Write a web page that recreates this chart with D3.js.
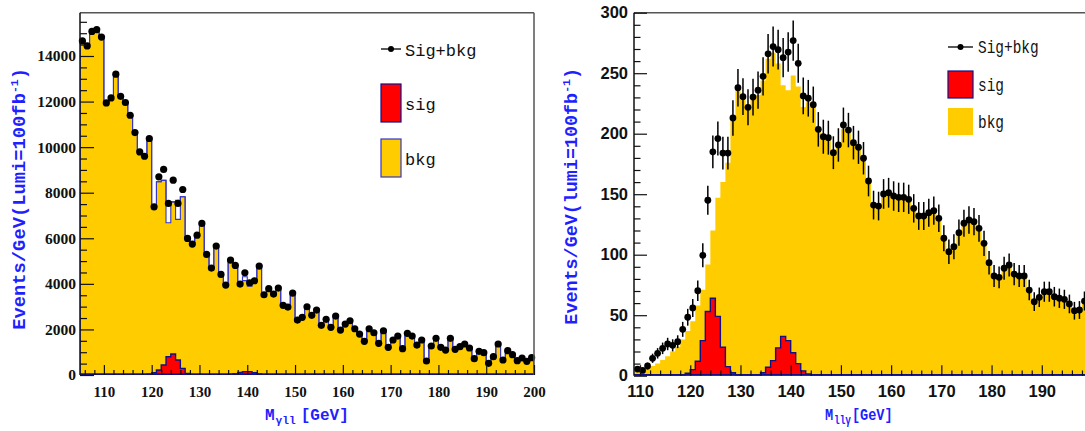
<!DOCTYPE html>
<html>
<head>
<meta charset="utf-8">
<script src="https://cdn.jsdelivr.net/npm/d3@7"></script>
<style>
body { margin: 0; background: #fff; }
svg { display: block; }
</style>
</head>
<body>
<div id="chart"></div>
<script>
// Left panel: M(gamma l l), 1 GeV bins from 105 to 200
var leftBins = d3.range(105, 200);
var leftData = [
    14660, 14440, 15080, 15160, 14830, 11940, 12160, 13200, 12230, 11960,
    11400, 10640, 9790, 9600, 10380, 7380, 8695, 9020, 7528, 8550,
    7528, 8142, 5994, 5744, 6138, 6651, 5291, 4691, 5656, 4414,
    3946, 5042, 4808, 3990, 4487, 4048, 4136, 4779, 3522, 3790,
    3551, 3815, 3056, 2982, 3595, 2412, 2530, 2995, 2617, 2850,
    2179, 2442, 2091, 2587, 1973, 2236, 2381, 2030, 1798, 1478,
    2030, 1855, 1390, 1942, 1215, 1535, 1710, 1155, 1827, 1710,
    1315, 1535, 614, 1272, 1608, 1213, 1096, 1608, 1126, 1242,
    1360, 1184, 716, 1038, 979, 512, 804, 1360, 658, 1067,
    892, 628, 746, 599, 760];
var leftBkg = [
    14660, 14440, 15080, 15160, 14830, 11940, 12160, 13200, 12230, 11960,
    11400, 10640, 9790, 9600, 10380, 7300, 8480, 8540, 7600, 7600,
    7670, 7820, 6050, 5744, 6138, 6651, 5291, 4691, 5656, 4414,
    3946, 5042, 4808, 3990, 4310, 4090, 4136, 4779, 3522, 3790,
    3551, 3815, 3056, 2982, 3595, 2412, 2530, 2995, 2617, 2850,
    2179, 2442, 2091, 2587, 1973, 2236, 2381, 2030, 1798, 1478,
    2030, 1855, 1390, 1942, 1215, 1535, 1710, 1155, 1827, 1710,
    1315, 1535, 614, 1272, 1608, 1213, 1096, 1608, 1126, 1242,
    1360, 1184, 716, 1038, 979, 512, 804, 1360, 658, 1067,
    892, 628, 746, 599, 760];
var leftSig = [
    0, 0, 0, 0, 0, 0, 0, 0, 0, 0,
    0, 0, 0, 10, 40, 100, 220, 440, 800, 920,
    660, 290, 70, 15, 0, 0, 0, 0, 0, 0,
    10, 25, 60, 110, 150, 150, 100, 45, 15, 0,
    0, 0, 0, 0, 0, 0, 0, 0, 0, 0,
    0, 0, 0, 0, 0, 0, 0, 0, 0, 0,
    0, 0, 0, 0, 0, 0, 0, 0, 0, 0,
    0, 0, 0, 0, 0, 0, 0, 0, 0, 0,
    0, 0, 0, 0, 0, 0, 0, 0, 0, 0,
    0, 0, 0, 0, 0];
// bins where the yellow fill stops below the blue outline
var leftHoleBins = [123, 125, 139, 140];
var leftHoleTop = [6680, 6830, 4140, 3900];
var leftYTicks = [0, 2000, 4000, 6000, 8000, 10000, 12000, 14000];
var leftXTicks = [110, 120, 130, 140, 150, 160, 170, 180, 190, 200];

// Right panel: M(l l gamma), 1 GeV bins from 109
var rightBins = d3.range(109, 200);
var rightData = [
    5.5, 4.4, 8, 14.4, 18.5, 22.6, 26.2, 25.1, 28.1, 38.3,
    48.3, 56, 70.2, 99.5, 145, 185, 196, 184, 184, 213,
    238, 230.6, 221.8, 230.3, 236, 247.4, 266, 272, 269.4, 262.8,
    267.5, 277, 258.2, 231.2, 229.3, 224, 203.6, 197.5, 196.7, 184.3,
    190.7, 207.2, 203, 192.6, 188.8, 179.7, 160.9, 141, 140.2, 150.2,
    151.2, 148.5, 147.4, 147.4, 145.8, 138.3, 132, 132, 134.7, 136.4,
    130.1, 113.6, 102.5, 106.6, 118.2, 126, 128.7, 127.3, 121.8, 109.4,
    93.4, 82.4, 81.3, 88.8, 91.5, 84, 82.4, 82.4, 70.8, 61.2,
    64.8, 69.4, 69.4, 65.3, 64, 63.1, 59.3, 53.7, 54.3, 61.7,
    58];
var rightBkg = [
    3, 4, 6, 8, 10, 13, 16, 20, 24, 30,
    37, 45, 58, 71, 92, 120, 147, 160, 176, 211,
    236, 228, 222, 228, 232, 244, 262, 267, 258, 240,
    236, 248, 239, 222, 226, 222, 202, 196, 195, 186,
    189, 204, 201, 193, 188, 180, 163, 143, 141, 149,
    150, 148, 147, 146, 145, 139, 133, 133, 134, 136,
    130, 115, 104, 107, 117, 125, 128, 127, 122, 110,
    95, 84, 82, 88, 90, 85, 83, 82, 72, 63,
    65, 69, 68, 65, 64, 63, 59, 55, 55, 60,
    58];
var rightSig = [
    0, 0, 0, 0, 0, 0, 0, 0, 0, 0.5,
    2, 5, 12, 29, 53, 64, 49, 23.5, 7.5, 2.5,
    0.5, 0, 0, 0, 0, 2.5, 7, 12.5, 23, 32.5,
    29, 19, 10, 4, 1.5, 0, 0, 0, 0, 0,
    0, 0, 0, 0, 0, 0, 0, 0, 0, 0,
    0, 0, 0, 0, 0, 0, 0, 0, 0, 0,
    0, 0, 0, 0, 0, 0, 0, 0, 0, 0,
    0, 0, 0, 0, 0, 0, 0, 0, 0, 0,
    0, 0, 0, 0, 0, 0, 0, 0, 0, 0,
    0];
var rightYTicks = [0, 50, 100, 150, 200, 250, 300];
var rightXTicks = [110, 120, 130, 140, 150, 160, 170, 180, 190];

var legendLabels = ["Sig+bkg", "sig", "bkg"];

var YELLOW = "#ffcc00", RED = "#ff0000", NAVY = "#10108a", BLUE = "#1f1fff";

var svg = d3.select("#chart").append("svg")
    .attr("width", 1085)
    .attr("height", 431);

function drawPanel(p) {
    var x = d3.scaleLinear().domain(p.xDomain).range(p.xRange);
    var y = d3.scaleLinear().domain(p.yDomain).range(p.yRange);
    var x0 = p.xRange[0], x1 = p.xRange[1], yb = p.yRange[0], yt = p.yRange[1];

    svg.append("clipPath").attr("id", "clip-" + p.id)
        .append("rect")
        .attr("x", x0).attr("y", yt)
        .attr("width", x1 - x0).attr("height", yb - yt);

    var g = svg.append("g");
    var plot = g.append("g").attr("clip-path", "url(#clip-" + p.id + ")");

    var lastEdge = p.bins[p.bins.length - 1] + 1;
    function stepPts(vals) {
        var pts = p.bins.map(function(b, i) { return [b, vals[i]]; });
        pts.push([lastEdge, vals[vals.length - 1]]);
        return pts;
    }
    function closedPts(vals) {
        return [[p.bins[0], 0]].concat(stepPts(vals), [[lastEdge, 0]]);
    }
    var area = d3.area().curve(d3.curveStepAfter)
        .x(function(d) { return x(d[0]); })
        .y0(y(0))
        .y1(function(d) { return y(d[1]); });
    var line = d3.line().curve(d3.curveStepAfter)
        .x(function(d) { return x(d[0]); })
        .y(function(d) { return y(d[1]); });

    // background histogram (yellow)
    var fillVals = p.bkg.map(function(v, i) {
        var k = p.holeBins.indexOf(p.bins[i]);
        return k >= 0 ? p.holeTop[k] : v;
    });
    plot.append("path")
        .attr("d", area(stepPts(fillVals)))
        .attr("fill", YELLOW)
        .attr("stroke", p.bkgStroke ? p.bkgStroke : "none")
        .attr("stroke-width", 1.1);
    if (p.bkgStroke) {
        plot.append("path")
            .attr("d", line(closedPts(p.bkg)))
            .attr("fill", "none")
            .attr("stroke", p.bkgStroke)
            .attr("stroke-width", 1.1);
    }

    // signal histogram (red)
    plot.append("path")
        .attr("d", area(stepPts(p.sig)))
        .attr("fill", RED);
    plot.append("line")
        .attr("x1", x0).attr("x2", x1)
        .attr("y1", yb - 0.5).attr("y2", yb - 0.5)
        .attr("stroke", NAVY).attr("stroke-width", 2.5);
    plot.append("path")
        .attr("d", line(closedPts(p.sig)))
        .attr("fill", "none")
        .attr("stroke", NAVY)
        .attr("stroke-width", 1.4);

    // pseudo data: dots with sqrt(N) error bars
    var pts = g.append("g").selectAll("g")
        .data(p.data.map(function(v, i) { return {b: p.bins[i] + 0.5, v: v}; }))
        .enter().append("g");
    pts.append("line")
        .attr("x1", function(d) { return x(d.b); })
        .attr("x2", function(d) { return x(d.b); })
        .attr("y1", function(d) { return y(d.v - Math.sqrt(d.v)); })
        .attr("y2", function(d) { return y(d.v + Math.sqrt(d.v)); })
        .attr("stroke", "#000")
        .attr("stroke-width", 1.5);
    pts.append("circle")
        .attr("cx", function(d) { return x(d.b); })
        .attr("cy", function(d) { return y(d.v); })
        .attr("r", p.dotR)
        .attr("fill", "#000");

    // frame
    g.append("line").attr("x1", x0).attr("x2", x1).attr("y1", yt).attr("y2", yt)
        .attr("stroke", "#555").attr("stroke-width", 1.5);
    g.append("line").attr("x1", x1).attr("x2", x1).attr("y1", yt).attr("y2", yb)
        .attr("stroke", "#555").attr("stroke-width", 1.5);
    g.append("line").attr("x1", x0).attr("x2", x0).attr("y1", yt).attr("y2", yb)
        .attr("stroke", "#111").attr("stroke-width", 1.5);

    // ticks drawn inside the frame, ROOT style
    var yMinor = d3.range(p.yDomain[0], p.yDomain[1] + 1e-6, p.yMinorStep)
        .filter(function(v) { return p.yTicks.indexOf(v) < 0; });
    var xMinor = d3.range(Math.ceil(p.xDomain[0] / 2) * 2, p.xDomain[1] + 1e-6, 2)
        .filter(function(v) { return p.xTicks.indexOf(v) < 0; });

    var yMaj = g.append("g").attr("transform", "translate(" + x0 + ",0)")
        .call(d3.axisLeft(y).tickValues(p.yTicks).tickSizeInner(-p.yMajLen)
            .tickSizeOuter(0).tickPadding(p.yPad).tickFormat(d3.format("d")));
    var yMin = g.append("g").attr("transform", "translate(" + x0 + ",0)")
        .call(d3.axisLeft(y).tickValues(yMinor).tickSizeInner(-p.yMajLen / 2)
            .tickSizeOuter(0).tickFormat(""));
    var xMaj = g.append("g").attr("transform", "translate(0," + yb + ")")
        .call(d3.axisBottom(x).tickValues(p.xTicks).tickSizeInner(-p.xMajLen)
            .tickSizeOuter(0).tickPadding(p.xPad).tickFormat(d3.format("d")));
    var xMin = g.append("g").attr("transform", "translate(0," + yb + ")")
        .call(d3.axisBottom(x).tickValues(xMinor).tickSizeInner(-p.xMajLen / 2)
            .tickSizeOuter(0).tickFormat(""));
    [yMaj, yMin, xMaj, xMin].forEach(function(a) {
        a.select(".domain").remove();
        a.selectAll(".tick line").attr("stroke", "#111").attr("stroke-width", 1.2);
    });
    yMaj.selectAll("text").attr("font-family", p.tickFont).attr("font-weight", "bold")
        .attr("font-size", p.yTickSize).attr("fill", "#111");
    xMaj.selectAll("text").attr("font-family", p.tickFont).attr("font-weight", "bold")
        .attr("font-size", p.xTickSize).attr("fill", "#111");

    // y axis title
    var yt1 = svg.append("text")
        .attr("transform", "translate(" + p.yTitleX + "," + p.yTitleY + ") rotate(-90)")
        .attr("text-anchor", "end")
        .attr("font-family", "Liberation Mono")
        .attr("font-weight", "bold")
        .attr("font-size", p.yTitleSize)
        .attr("fill", BLUE);
    yt1.append("tspan").text(p.yTitle);
    yt1.append("tspan").attr("dy", -7).attr("font-size", 11.5).text("-1");
    yt1.append("tspan").attr("dy", 7).text(")");

    // x axis title
    var xt = svg.append("text")
        .attr("transform", "translate(" + p.xTitleX + ",420) scale(" + p.xTitleScale + ",1)")
        .attr("font-family", "Liberation Mono")
        .attr("font-weight", "bold")
        .attr("font-size", p.xTitleSize)
        .attr("fill", BLUE);
    xt.append("tspan").text("M");
    xt.append("tspan").attr("dy", 4).attr("dx", 1).attr("font-size", p.xTitleSize * 0.7).text(p.xSub);
    xt.append("tspan").attr("dy", -4).attr("dx", p.xGap).text("[GeV]");

    // legend
    var L = p.legend;
    var lg = svg.append("g");
    lg.append("line").attr("x1", L.x).attr("x2", L.x + L.w)
        .attr("y1", L.lineY).attr("y2", L.lineY)
        .attr("stroke", "#000").attr("stroke-width", 1.3);
    lg.append("circle").attr("cx", L.x + L.w / 2).attr("cy", L.lineY).attr("r", 3).attr("fill", "#000");
    lg.append("rect").attr("x", L.x).attr("y", L.sigY).attr("width", L.w).attr("height", L.h)
        .attr("fill", RED).attr("stroke", NAVY).attr("stroke-width", 1.2);
    lg.append("rect").attr("x", L.x).attr("y", L.bkgY).attr("width", L.w).attr("height", L.h)
        .attr("fill", YELLOW).attr("stroke", p.bkgStroke ? p.bkgStroke : "none").attr("stroke-width", 1.2);
    [L.textY0, L.textY1, L.textY2].forEach(function(ty, i) {
        lg.append("text")
            .attr("transform", "translate(" + L.textX + "," + ty + ") scale(" + L.scale + ",1)")
            .attr("font-family", "Liberation Mono")
            .attr("font-size", L.size)
            .attr("fill", "#111")
            .text(legendLabels[i]);
    });
}

drawPanel({
    id: "left",
    bins: leftBins, data: leftData, bkg: leftBkg, sig: leftSig,
    holeBins: leftHoleBins, holeTop: leftHoleTop,
    xDomain: [105, 200], xRange: [80, 534],
    yDomain: [0, 15900], yRange: [375, 12.7],
    yTicks: leftYTicks, xTicks: leftXTicks, yMinorStep: 500,
    yMajLen: 14, xMajLen: 10, yPad: 4, xPad: 11,
    tickFont: "Liberation Serif", yTickSize: 15.5, xTickSize: 15,
    bkgStroke: "#3535c8", dotR: 3.6,
    yTitle: "Events/GeV(Lumi=100fb", yTitleX: 25, yTitleY: 68, yTitleSize: 18.8,
    xTitleX: 265, xTitleSize: 16, xTitleScale: 1, xSub: "\u03b3ll", xGap: 5,
    legend: {x: 381, w: 20, h: 38, lineY: 49, sigY: 84, bkgY: 139,
             textX: 405, textY0: 56, textY1: 110, textY2: 165, size: 17, scale: 1}
});

drawPanel({
    id: "right",
    bins: rightBins, data: rightData, bkg: rightBkg, sig: rightSig,
    holeBins: [], holeTop: [],
    xDomain: [108.8, 200], xRange: [634, 1092],
    yDomain: [0, 300], yRange: [375.7, 12.7],
    yTicks: rightYTicks, xTicks: rightXTicks, yMinorStep: 10,
    yMajLen: 13, xMajLen: 10.5, yPad: 6, xPad: 10,
    tickFont: "Liberation Sans", yTickSize: 16.5, xTickSize: 16.5,
    bkgStroke: null, dotR: 3.4,
    yTitle: "Events/GeV(lumi=100fb", yTitleX: 577, yTitleY: 68, yTitleSize: 18.4,
    xTitleX: 825, xTitleSize: 17, xTitleScale: 0.8, xSub: "ll\u03b3", xGap: 1,
    legend: {x: 948, w: 25, h: 27, lineY: 47, sigY: 71, bkgY: 108,
             textX: 978, textY0: 53, textY1: 90.5, textY2: 128, size: 19, scale: 0.76}
});
</script>
</body>
</html>
